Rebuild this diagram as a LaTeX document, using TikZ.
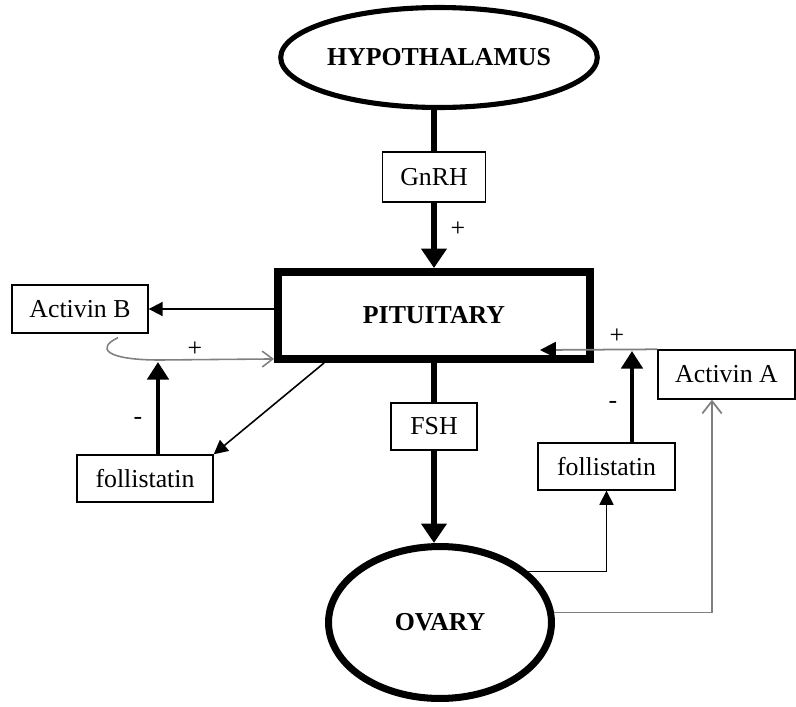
\documentclass[tikz,border=0pt]{standalone}
\usepackage{fontspec}
\setmainfont{Liberation Serif}
\usetikzlibrary{arrows.meta,shapes.geometric}
\begin{document}
\begin{tikzpicture}[x=0.02cm,y=-0.02cm,
  font=\fontsize{14.7}{17}\selectfont,
  organ/.style={draw,inner sep=0pt,font=\fontsize{14.7}{17}\selectfont\bfseries},
  hbox/.style={draw,line width=0.8pt,inner sep=0pt},
  big/.style={line width=3.4pt,-{Triangle[length=11pt,width=14pt]}},
  mid/.style={line width=2.8pt,-{Triangle[length=10pt,width=12pt]}},
  thin/.style={line width=0.9pt,-{Triangle[length=8pt,width=8pt]}}]
\useasboundingbox (0,0) rectangle (796,707);
% organs
\node[organ,ellipse,line width=2.9pt,minimum width=5.54cm,minimum height=2cm] (hyp) at (439,57.5) {HYPOTHALAMUS};
\node[organ,line width=4.5pt,minimum width=6.24cm,minimum height=1.74cm] (pit) at (434,315.5) {PITUITARY};
\node[organ,ellipse,line width=4pt,minimum width=4.46cm,minimum height=3.04cm] (ov) at (440,622.5) {OVARY};
% hormones
\node[hbox,minimum width=2.06cm,minimum height=1cm] (gnrh) at (434,177) {GnRH};
\node[hbox,minimum width=1.72cm,minimum height=0.94cm] (fsh) at (434,426.5) {FSH};
\node[hbox,minimum width=2.72cm,minimum height=0.96cm] (actB) at (80,309) {Activin B};
\node[hbox,minimum width=2.72cm,minimum height=0.94cm] (follL) at (145,478.5) {follistatin};
\node[hbox,minimum width=2.74cm,minimum height=0.94cm] (follR) at (606.5,466.5) {follistatin};
\node[hbox,minimum width=2.74cm,minimum height=0.98cm] (actA) at (726.5,374.5) {Activin A};
% signs
\node (p1) at (458,229) {+};
\node (p2) at (195,349) {+};
\node (m1) at (138,421) {-};
\node (p3) at (617,336) {+};
\node (m2) at (613,405) {-};
\coordinate (jL) at (158,362);
\coordinate (jR) at (632,351);
\coordinate (aA) at (540,350);
% axis
\draw[line width=3.4pt] (gnrh.north) -- (gnrh.north |- hyp.south);
\draw[big] (gnrh.south) -- (pit.north);
\draw[line width=3.4pt] (pit.south) -- (fsh.north);
\draw[big] (fsh.south) -- (fsh.south |- ov.north);
% left loop
\draw[line width=1.1pt,-{Triangle[length=8pt,width=8pt]}] (pit.west |- actB.east) -- (actB.east);
\draw[gray,line width=0.9pt,-{Straight Barb[length=6pt,width=9pt]}] ([xshift=0.76cm,yshift=-0.08cm]actB.south) .. controls (96,348) and (105,360) .. (160,360) -- ([yshift=0.08cm]pit.south west);
\draw[mid] (follL.north -| jL) -- (jL);
\draw[thin] ([xshift=1cm]pit.south west) -- (follL.north east);
% right loop
\draw[gray,line width=1pt,-{Triangle[length=9pt,width=9pt,black]}] (actA.north west) -- (aA);
\draw[mid] (follR.north -| jR) -- (jR);
\draw[thin] (ov.30) -| (follR.south);
\draw[gray,line width=1pt,-{Straight Barb[length=7pt,width=11pt]}] (ov.5) -| ([xshift=-0.29cm]actA.south);
\end{tikzpicture}
\end{document}
